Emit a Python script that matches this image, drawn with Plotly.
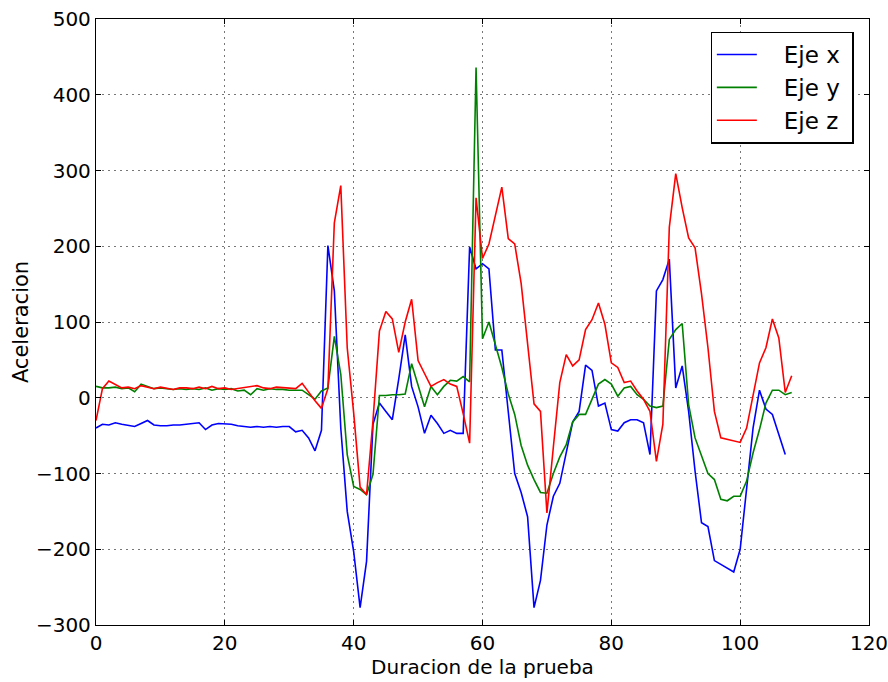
import plotly.graph_objects as go

eje_x = [-40,-35,-36,-33,-35,-37,-38,-34,-30,-36,-37,-37,-36,-36,-35,-34,-33,-42,-36,-34,
         -34,-35,-37,-38,-39,-38,-39,-38,-39,-38,-38,-45,-43,-53,-70,-43,
         201,141,-40,-150,-203,-277,-216,-35,-7,-18,-29,25,83,15,-12,-47,-23,-34,-47,-43,-47,-47,
         199,170,177,170,63,63,-20,-100,-125,-157,
         -277,-241,-168,-130,-113,-72,-32,-18,43,36,
         -11,-7,-42,-44,-33,-29,-29,-33,-75,141,156,183,13,42,-18,-97,
         -165,-170,-215,-220,-225,-230,-200,-120,-40,10,-15,-22,-50,-75]

eje_y = [15,13,13,14,12,13,8,18,15,12,13,12,11,12,11,12,11,13,10,12,
         11,12,9,10,4,12,10,12,11,11,10,10,10,4,-2,9,
         13,81,31,-75,-117,-121,-128,-101,3,3,4,4,5,45,15,-12,15,4,15,23,22,28,21,
         436,78,100,70,40,5,-22,-63,-89,
         -108,-125,-126,-100,-78,-62,-32,-22,-22,-2,
         18,24,18,2,13,15,4,-2,-11,-13,-11,77,90,98,-9,-53,
         -77,-100,-108,-134,-136,-130,-130,-110,-73,-42,-7,10,10,4,7]

eje_z = [-30,12,22,18,13,14,12,16,14,12,14,12,11,13,13,12,14,12,15,12,
         13,11,12,14,15,16,13,12,14,13,13,12,19,7,-4,-14,
         12,231,280,66,-20,-118,-128,-30,88,114,104,60,100,130,49,32,15,20,24,18,15,-21,-60,
         264,184,203,240,278,210,203,151,70,
         -8,-18,-152,-65,20,57,42,50,90,103,
         125,97,46,40,20,22,9,-2,-18,-84,-35,225,296,251,211,198,
         137,66,-18,-53,-55,-56,-59,-40,4,46,66,104,79,7,29]

x_ticks = [0, 20, 40, 60, 80, 100, 120]
y_ticks = [-300, -200, -100, 0, 100, 200, 300, 400, 500]

series = [("Eje x", eje_x, "#0000ff"), ("Eje y", eje_y, "#008000"), ("Eje z", eje_z, "#ff0000")]

fig = go.Figure()
for name, vals, col in series:
    fig.add_trace(go.Scatter(x=list(range(len(vals))), y=vals, mode="lines",
                             name="\u00a0\u00a0\u00a0" + name + "\u00a0",
                             line=dict(color=col, width=1.6)))

font = "DejaVu Sans, sans-serif"
axis_common = dict(showline=True, linecolor="black", linewidth=1.3, mirror="allticks",
                   ticks="inside", ticklen=5, tickcolor="black", tickwidth=1,
                   showgrid=True, gridcolor="#777777", gridwidth=1, griddash="2px,4px",
                   zeroline=False, automargin=False, ticklabeloverflow="allow",
                   tickfont=dict(family=font, size=20, color="black"))

fig.update_layout(
    width=888, height=682,
    margin=dict(l=96, r=19, t=19, b=57),
    paper_bgcolor="white", plot_bgcolor="white",
    font=dict(family=font, color="black"),
    showlegend=True,
    legend=dict(x=0.98, y=0.979, xanchor="right", yanchor="top",
                bgcolor="white", bordercolor="black", borderwidth=1.3,
                font=dict(family=font, size=23, color="black"),
                tracegroupgap=0, itemwidth=40),
)
fig.update_xaxes(range=[0, 120], tickvals=x_ticks,
                 title=dict(text="Duracion de la prueba", font=dict(family=font, size=20), standoff=4),
                 **axis_common)
fig.update_yaxes(range=[-300, 500], tickvals=y_ticks,
                 title=dict(text="Aceleracion", font=dict(family=font, size=21), standoff=1),
                 **axis_common)

fig.write_html("out.html", config={"displayModeBar": False})

with open("out.html", "r", encoding="utf-8") as f:
    html = f.read()
html = html.replace("<body>", '<body style="margin:0;overflow:hidden">', 1)
with open("out.html", "w", encoding="utf-8") as f:
    f.write(html)
